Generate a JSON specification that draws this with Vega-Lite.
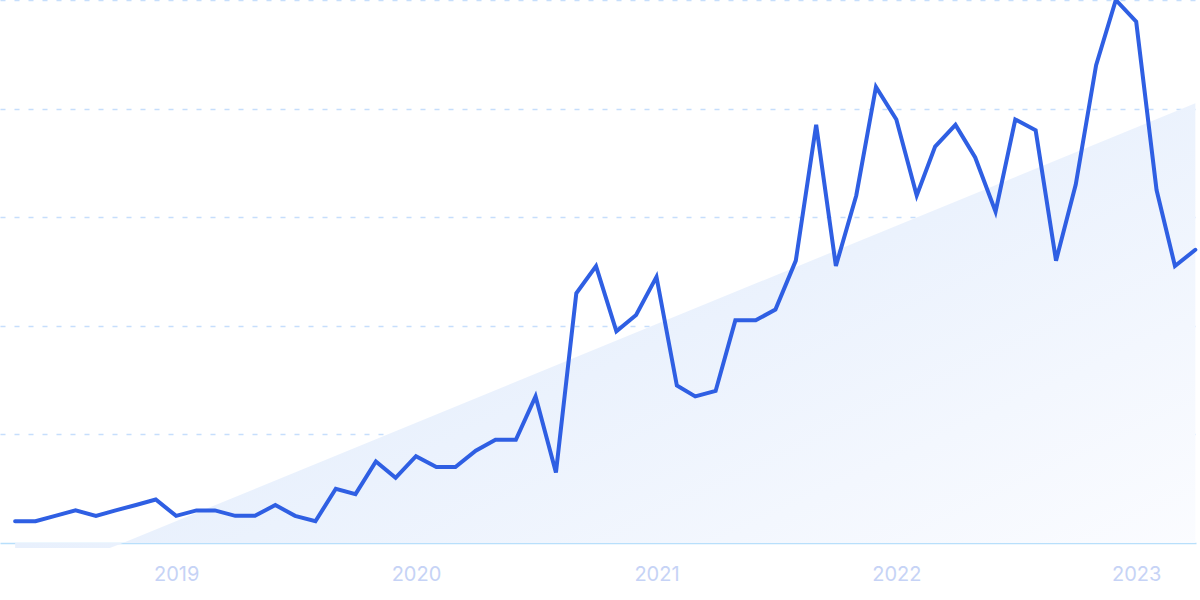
{
  "$schema": "https://vega.github.io/schema/vega-lite/v6.json",
  "width": 1196,
  "height": 543,
  "autosize": {"type": "none"},
  "padding": {"left": 0, "top": 0, "right": 4, "bottom": 57},
  "background": "white",
  "config": {"view": {"stroke": null}},
  "datasets": {
    "trend": [
      {"date": "2018-05-01", "value": 4}, {"date": "2018-06-01", "value": 4}, {"date": "2018-07-01", "value": 5},
      {"date": "2018-08-01", "value": 6}, {"date": "2018-09-01", "value": 5}, {"date": "2018-10-01", "value": 6},
      {"date": "2018-11-01", "value": 7}, {"date": "2018-12-01", "value": 8}, {"date": "2019-01-01", "value": 5},
      {"date": "2019-02-01", "value": 6}, {"date": "2019-03-01", "value": 6}, {"date": "2019-04-01", "value": 5},
      {"date": "2019-05-01", "value": 5}, {"date": "2019-06-01", "value": 7}, {"date": "2019-07-01", "value": 5},
      {"date": "2019-08-01", "value": 4}, {"date": "2019-09-01", "value": 10}, {"date": "2019-10-01", "value": 9},
      {"date": "2019-11-01", "value": 15}, {"date": "2019-12-01", "value": 12}, {"date": "2020-01-01", "value": 16},
      {"date": "2020-02-01", "value": 14}, {"date": "2020-03-01", "value": 14}, {"date": "2020-04-01", "value": 17},
      {"date": "2020-05-01", "value": 19}, {"date": "2020-06-01", "value": 19}, {"date": "2020-07-01", "value": 27},
      {"date": "2020-08-01", "value": 13}, {"date": "2020-09-01", "value": 46}, {"date": "2020-10-01", "value": 51},
      {"date": "2020-11-01", "value": 39}, {"date": "2020-12-01", "value": 42}, {"date": "2021-01-01", "value": 49},
      {"date": "2021-02-01", "value": 29}, {"date": "2021-03-01", "value": 27}, {"date": "2021-04-01", "value": 28},
      {"date": "2021-05-01", "value": 41}, {"date": "2021-06-01", "value": 41}, {"date": "2021-07-01", "value": 43},
      {"date": "2021-08-01", "value": 52}, {"date": "2021-09-01", "value": 77}, {"date": "2021-10-01", "value": 51},
      {"date": "2021-11-01", "value": 64}, {"date": "2021-12-01", "value": 84}, {"date": "2022-01-01", "value": 78},
      {"date": "2022-02-01", "value": 64}, {"date": "2022-03-01", "value": 73}, {"date": "2022-04-01", "value": 77},
      {"date": "2022-05-01", "value": 71}, {"date": "2022-06-01", "value": 61}, {"date": "2022-07-01", "value": 78},
      {"date": "2022-08-01", "value": 76}, {"date": "2022-09-01", "value": 52}, {"date": "2022-10-01", "value": 66},
      {"date": "2022-11-01", "value": 88}, {"date": "2022-12-01", "value": 100}, {"date": "2023-01-01", "value": 96},
      {"date": "2023-02-01", "value": 65}, {"date": "2023-03-01", "value": 51}, {"date": "2023-04-01", "value": 54}
    ],
    "shape": [
      {"date": "2018-05-01", "top": 0, "bottom": -0.92},
      {"date": "2018-09-22", "top": 0, "bottom": -0.92},
      {"date": "2018-10-12", "top": 0, "bottom": 0},
      {"date": "2023-04-01", "top": 81, "bottom": 0}
    ]
  },
  "layer": [
    {
      "data": {"name": "shape"},
      "mark": {
        "type": "area",
        "interpolate": "linear",
        "fill": {
          "gradient": "linear",
          "x1": 0, "y1": 0.2, "x2": 1, "y2": 1,
          "stops": [
            {"offset": 0, "color": "#dde9fb"},
            {"offset": 0.5, "color": "#ebf2fd"},
            {"offset": 1, "color": "#fbfcff"}
          ]
        }
      },
      "encoding": {
        "x": {
          "field": "date", "type": "temporal",
          "scale": {"domain": [{"year": 2018, "month": 4, "date": 8}, {"year": 2023, "month": 4, "date": 2}]},
          "axis": {
            "title": null,
            "values": [
              {"year": 2019, "month": 1, "date": 1},
              {"year": 2020, "month": 1, "date": 1},
              {"year": 2021, "month": 1, "date": 1},
              {"year": 2022, "month": 1, "date": 1},
              {"year": 2023, "month": 1, "date": 1}
            ],
            "format": "%Y",
            "grid": false,
            "ticks": false,
            "domain": true,
            "domainColor": "#b8dffb",
            "domainWidth": 1.5,
            "labelFont": "Inter",
            "labelFontSize": 20,
            "labelColor": "#c6d3f6",
            "labelBaseline": "alphabetic",
            "labelPadding": 37,
            "labelFlush": false
          }
        },
        "y": {
          "field": "top", "type": "quantitative",
          "scale": {"domain": [0, 100], "nice": false},
          "axis": {
            "title": null,
            "values": [20, 40, 60, 80, 100],
            "grid": true,
            "gridColor": "#c6defc",
            "gridDash": [5, 9],
            "gridWidth": 1.3,
            "labels": false,
            "ticks": false,
            "domain": false,
            "minExtent": 0,
            "maxExtent": 0
          }
        },
        "y2": {"field": "bottom"}
      }
    },
    {
      "data": {"name": "trend"},
      "mark": {"type": "line", "color": "#2f5fe3", "strokeWidth": 4, "strokeCap": "round"},
      "encoding": {
        "x": {"field": "date", "type": "temporal"},
        "y": {"field": "value", "type": "quantitative"}
      }
    }
  ]
}
